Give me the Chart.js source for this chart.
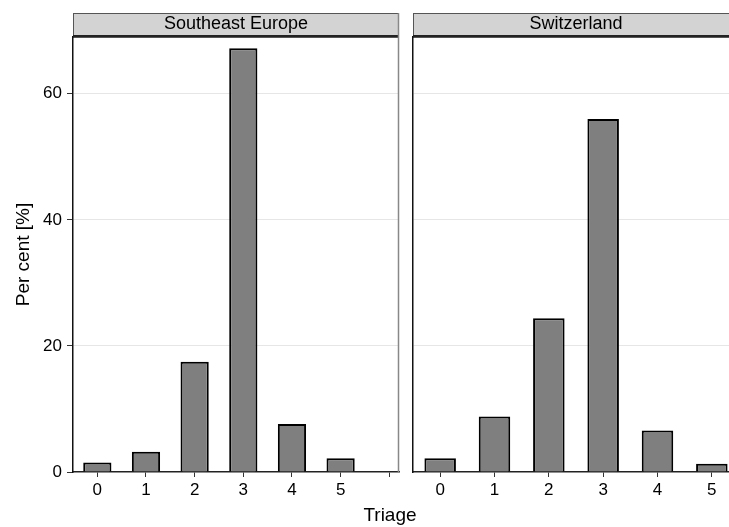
<!DOCTYPE html>
<html>
<head>
<meta charset="utf-8">
<script src="https://cdn.jsdelivr.net/npm/chart.js@4/dist/chart.umd.min.js"></script>
<style>
  html, body { margin: 0; padding: 0; background: #fff; }
  body { width: 729px; height: 527px; position: relative; overflow: hidden; }
  canvas { position: absolute; top: 0; }
  #c1 { left: 0; }
  #c2 { left: 405px; }
  #xtitle { position: absolute; left: 290px; width: 200px; top: 505px; text-align: center;
    font: 19px "Liberation Sans", Arial, Helvetica, sans-serif; line-height: 19px; color: #000; }
</style>
</head>
<body>
<canvas id="c1" width="405" height="527"></canvas>
<canvas id="c2" width="340" height="527"></canvas>
<div id="xtitle">Triage</div>
<script>
// ---- data ----
const triage = [0, 1, 2, 3, 4, 5];
const seEurope = [1.5, 3.2, 17.5, 67.2, 7.6, 2.2];
const switzerland = [2.2, 8.8, 24.4, 56.0, 6.6, 1.3];
const panelTitles = ['Southeast Europe', 'Switzerland'];
const yTickValues = [0, 20, 40, 60];
const leftXTickValues = [0, 1, 2, 3, 4, 5, 6];
const leftXTickLabels = ['0', '1', '2', '3', '4', '5', ''];
const rightXTickValues = [0, 1, 2, 3, 4, 5];
const rightXTickLabels = ['0', '1', '2', '3', '4', '5'];
const yTitle = 'Per cent [%]';

Chart.defaults.font.family = '"Liberation Sans", Arial, Helvetica, sans-serif';
Chart.defaults.color = '#000';

const stripPlugin = {
  id: 'strip',
  beforeDraw(chart) {
    const ctx = chart.ctx, a = chart.chartArea;
    ctx.save();
    ctx.fillStyle = '#d3d3d3';
    ctx.fillRect(a.left, 13, a.right - a.left, a.top - 13);
    ctx.strokeStyle = '#555';
    ctx.lineWidth = 1;
    ctx.strokeRect(a.left + 0.5, 13.5, a.right - a.left - 1, a.top - 13);
    ctx.restore();
  },
  afterDraw(chart) {
    const ctx = chart.ctx, a = chart.chartArea;
    ctx.save();
    ctx.strokeStyle = '#222';
    ctx.lineWidth = 2;
    ctx.beginPath();
    ctx.moveTo(a.left, a.top - 1);
    ctx.lineTo(a.right, a.top - 1);
    ctx.stroke();
    ctx.strokeStyle = '#888';
    ctx.lineWidth = 1.5;
    ctx.beginPath();
    ctx.moveTo(a.right - 0.5, 13);
    ctx.lineTo(a.right - 0.5, a.bottom);
    ctx.stroke();
    ctx.restore();
  }
};

function makeChart(id, values, title, xMin, xMax, xTicks, xLabels, showY, padRight) {
  return new Chart(document.getElementById(id), {
    type: 'bar',
    data: {
      datasets: [{
        data: triage.map((t, i) => ({ x: t, y: values[i] })),
        backgroundColor: '#7f7f7f',
        borderColor: '#000',
        borderWidth: 2,
        categoryPercentage: 1,
        barPercentage: 0.58
      }]
    },
    options: {
      responsive: false,
      animation: false,
      devicePixelRatio: 1,
      layout: { padding: { top: 13, left: 0, right: padRight, bottom: 0 } },
      plugins: {
        legend: { display: false },
        tooltip: { enabled: false },
        title: {
          display: true,
          text: title,
          fullSize: false,
          font: { size: 18, weight: 'normal' },
          color: '#000',
          padding: { top: 0, bottom: 2.4 }
        }
      },
      scales: {
        x: {
          type: 'linear',
          offset: false,
          min: xMin,
          max: xMax,
          afterBuildTicks: s => { s.ticks = xTicks.map(v => ({ value: v })); },
          afterFit: s => { s.height = 55; },
          ticks: {
            autoSkip: false,
            maxRotation: 0,
            padding: 3,
            font: { size: 17 },
            color: '#000',
            callback: (v) => { const i = xTicks.indexOf(v); return i >= 0 ? xLabels[i] : ''; }
          },
          grid: { offset: false, drawOnChartArea: false, drawTicks: true, tickLength: 5, tickColor: '#333', tickWidth: 1 },
          border: { display: true, color: '#222', width: 1.5 }
        },
        y: {
          min: 0,
          max: 69,
          afterBuildTicks: s => { s.ticks = yTickValues.map(v => ({ value: v })); },
          afterFit: s => { s.width = showY ? 73 : 8; },
          ticks: {
            display: showY,
            padding: 5,
            font: { size: 17 },
            color: '#000'
          },
          title: {
            display: showY,
            text: yTitle,
            font: { size: 19 },
            color: '#000',
            padding: { top: 12, bottom: 0 }
          },
          grid: {
            color: ctx => (ctx.tick && ctx.tick.value === 0) ? 'rgba(0,0,0,0)' : '#e6e6e6',
            lineWidth: 1,
            drawTicks: showY,
            tickLength: 6,
            tickColor: '#333',
            tickWidth: 1
          },
          border: { display: true, color: '#111', width: 1.5 }
        }
      }
    },
    plugins: [stripPlugin]
  });
}

makeChart('c1', seEurope, panelTitles[0], -0.5, 6.2, leftXTickValues, leftXTickLabels, true, 6);
makeChart('c2', switzerland, panelTitles[1], -0.5, 5.5, rightXTickValues, rightXTickLabels, false, 6);
</script>
</body>
</html>
